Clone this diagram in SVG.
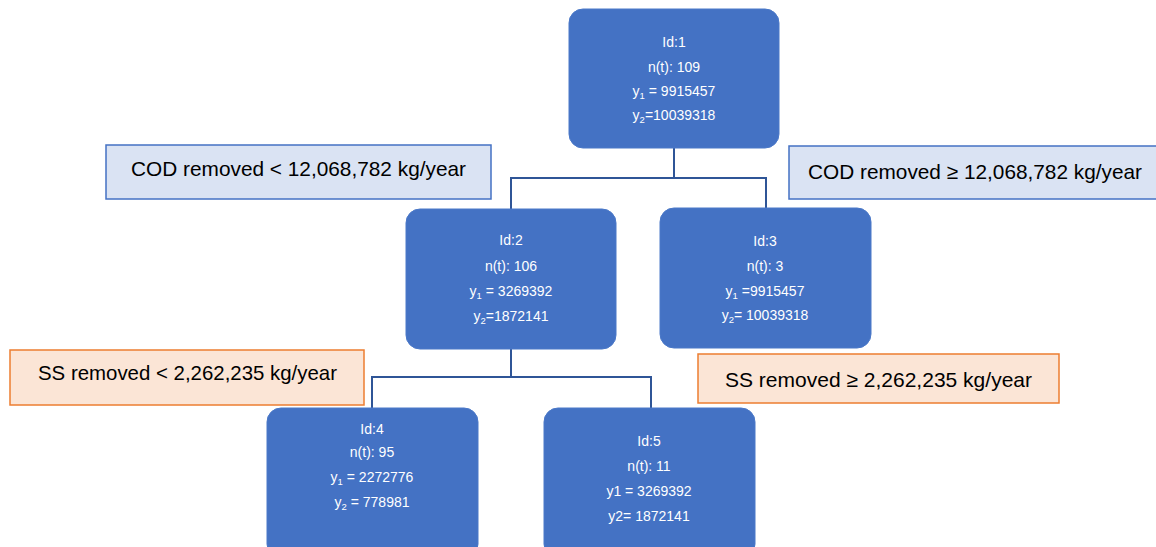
<svg xmlns="http://www.w3.org/2000/svg" width="1156" height="547" viewBox="0 0 1156 547">
<style>
.node{fill:#4472c4;stroke:#4a78c8;stroke-width:1}
.nt{font-family:"Liberation Sans",Arial,sans-serif;font-size:14px;fill:#ffffff;text-anchor:middle}
.sub{font-size:9.5px}
.cod{fill:#dae3f3;stroke:#4472c4;stroke-width:1.5}
.ss{fill:#fbe5d6;stroke:#ed7d31;stroke-width:1.5}
.lt{font-family:"Liberation Sans",Arial,sans-serif;font-size:21px;fill:#000000;text-anchor:middle}
.conn{fill:none;stroke:#2f5597;stroke-width:2}
</style>
<g id="connectors">
<path class="conn" d="M674 148 V178 M511 178 H766 M511 177 V209 M766 177 V208"/>
<path class="conn" d="M511 349 V377 M372 377 H651 M372 376 V408 M651 376 V408"/>
</g>
<g id="label-cod-left"><rect class="cod" x="106" y="145" width="385" height="54"/><text class="lt" x="298.5" y="176" textLength="335" lengthAdjust="spacingAndGlyphs">COD removed &lt; 12,068,782 kg/year</text></g>
<g id="label-cod-right"><rect class="cod" x="789" y="146" width="372" height="53"/><text class="lt" x="975" y="179" textLength="334" lengthAdjust="spacingAndGlyphs">COD removed ≥ 12,068,782 kg/year</text></g>
<g id="label-ss-left"><rect class="ss" x="10" y="350" width="354" height="55"/><text class="lt" x="187.5" y="380" textLength="299" lengthAdjust="spacingAndGlyphs">SS removed &lt; 2,262,235 kg/year</text></g>
<g id="label-ss-right"><rect class="ss" x="698" y="354" width="361" height="49"/><text class="lt" x="878.5" y="387" textLength="307" lengthAdjust="spacingAndGlyphs">SS removed  ≥ 2,262,235 kg/year</text></g>
<g id="node1"><rect class="node" x="569" y="9" width="210" height="139" rx="14"/>
<text class="nt" x="674" y="47">Id:1</text>
<text class="nt" x="674" y="72">n(t): 109</text>
<text class="nt" x="674" y="96">y<tspan class="sub" dy="3">1</tspan><tspan dy="-3"> = 9915457</tspan></text>
<text class="nt" x="674" y="120">y<tspan class="sub" dy="3">2</tspan><tspan dy="-3">=10039318</tspan></text></g>
<g id="node2"><rect class="node" x="406" y="209" width="210" height="140" rx="14"/>
<text class="nt" x="511" y="245">Id:2</text>
<text class="nt" x="511" y="271">n(t): 106</text>
<text class="nt" x="511" y="296">y<tspan class="sub" dy="3">1</tspan><tspan dy="-3"> = 3269392</tspan></text>
<text class="nt" x="511" y="321">y<tspan class="sub" dy="3">2</tspan><tspan dy="-3">=1872141</tspan></text></g>
<g id="node3"><rect class="node" x="660" y="208" width="211" height="140" rx="14"/>
<text class="nt" x="765" y="246">Id:3</text>
<text class="nt" x="765" y="271">n(t): 3</text>
<text class="nt" x="765" y="296">y<tspan class="sub" dy="3">1</tspan><tspan dy="-3"> =9915457</tspan></text>
<text class="nt" x="765" y="320">y<tspan class="sub" dy="3">2</tspan><tspan dy="-3">= 10039318</tspan></text></g>
<g id="node4"><rect class="node" x="267" y="408" width="211" height="150" rx="14"/>
<text class="nt" x="372" y="434">Id:4</text>
<text class="nt" x="372" y="457">n(t): 95</text>
<text class="nt" x="372" y="482">y<tspan class="sub" dy="3">1</tspan><tspan dy="-3"> = 2272776</tspan></text>
<text class="nt" x="372" y="507">y<tspan class="sub" dy="3">2</tspan><tspan dy="-3"> = 778981</tspan></text></g>
<g id="node5"><rect class="node" x="544" y="408" width="211" height="150" rx="14"/>
<text class="nt" x="649" y="446">Id:5</text>
<text class="nt" x="649" y="471">n(t): 11</text>
<text class="nt" x="649" y="496">y1 = 3269392</text>
<text class="nt" x="649" y="521">y2= 1872141</text></g>
</svg>
